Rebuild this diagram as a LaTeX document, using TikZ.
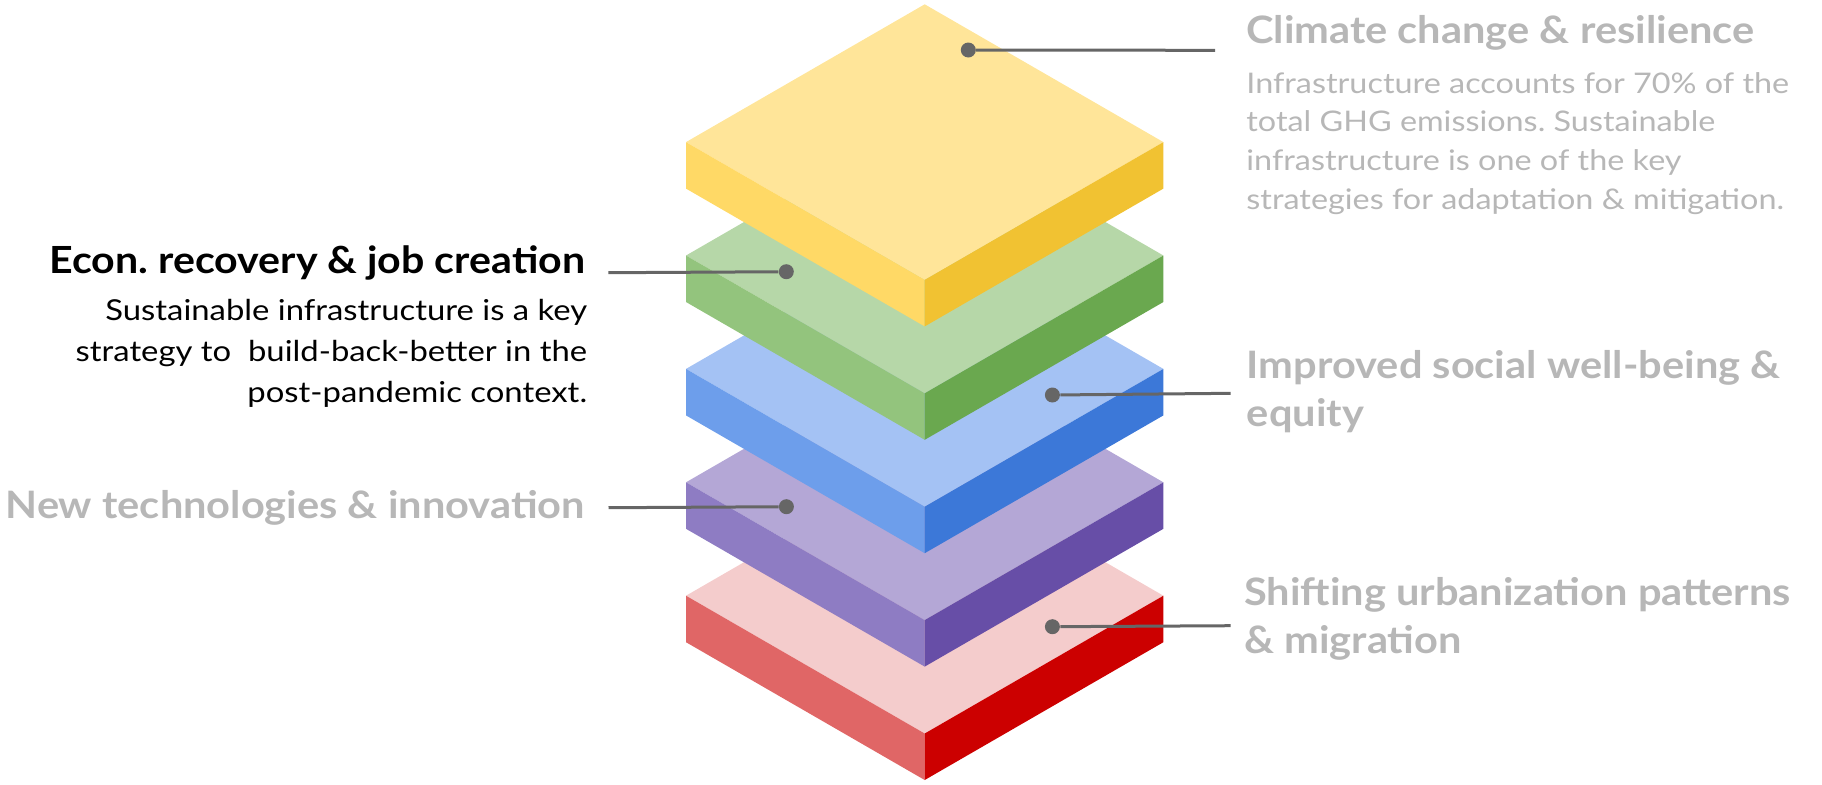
\documentclass[tikz,border=0pt]{standalone}
\usepackage{fontspec}
\setmainfont{Lato}[FakeStretch=1.14]
\newfontfamily\headfont{Lato}[FakeStretch=1.1]
\frenchspacing
\definecolor{ylwT}{HTML}{FFE599}
\definecolor{ylwL}{HTML}{FFD966}
\definecolor{ylwR}{HTML}{F1C232}
\definecolor{grnT}{HTML}{B6D7A8}
\definecolor{grnL}{HTML}{93C47D}
\definecolor{grnR}{HTML}{6AA84F}
\definecolor{bluT}{HTML}{A4C2F4}
\definecolor{bluL}{HTML}{6D9EEB}
\definecolor{bluR}{HTML}{3C78D8}
\definecolor{prpT}{HTML}{B4A7D6}
\definecolor{prpL}{HTML}{8E7CC3}
\definecolor{prpR}{HTML}{674EA7}
\definecolor{redT}{HTML}{F4CCCC}
\definecolor{redL}{HTML}{E06666}
\definecolor{redR}{HTML}{CC0000}
\definecolor{labelgray}{HTML}{B7B7B7}
\definecolor{pingray}{HTML}{666666}

\begin{document}
\begin{tikzpicture}[x=0.5pt,y=-0.5pt]
\tikzset{PinStyle/.style =
	{circle,
		fill=pingray,
		inner sep=0pt,
		minimum size=7.5pt},
	LeadStyle/.style = {draw=pingray, line width=1.5pt},
	HeadStyle/.style = {inner sep=0pt, font=\headfont\fontsize{18.9}{23.9}\selectfont\bfseries},
	TextStyle/.style = {inner sep=0pt, font=\fontsize{14.4}{20.5}\selectfont}}
\useasboundingbox (0,0) rectangle (1822,784);

% red layer
\begin{scope}[shift={(0,453.6)}]
\fill[redT] (924.7,4.3) -- ++(238.7,137.8) -- ++(-238.7,137.8) -- ++(-238.7,-137.8) -- cycle;
\fill[redL] (686,142.1) -- (924.7,279.9) -- ++(0,46.5) -- (686,188.6) -- cycle;
\fill[redR] (1163.4,142.1) -- (924.7,279.9) -- ++(0,46.5) -- (1163.4,188.6) -- cycle;
\end{scope}
% purple layer
\begin{scope}[shift={(0,340.2)}]
\fill[prpT] (924.7,4.3) -- ++(238.7,137.8) -- ++(-238.7,137.8) -- ++(-238.7,-137.8) -- cycle;
\fill[prpL] (686,142.1) -- (924.7,279.9) -- ++(0,46.5) -- (686,188.6) -- cycle;
\fill[prpR] (1163.4,142.1) -- (924.7,279.9) -- ++(0,46.5) -- (1163.4,188.6) -- cycle;
\end{scope}
% blue layer
\begin{scope}[shift={(0,226.8)}]
\fill[bluT] (924.7,4.3) -- ++(238.7,137.8) -- ++(-238.7,137.8) -- ++(-238.7,-137.8) -- cycle;
\fill[bluL] (686,142.1) -- (924.7,279.9) -- ++(0,46.5) -- (686,188.6) -- cycle;
\fill[bluR] (1163.4,142.1) -- (924.7,279.9) -- ++(0,46.5) -- (1163.4,188.6) -- cycle;
\end{scope}
% green layer
\begin{scope}[shift={(0,113.4)}]
\fill[grnT] (924.7,4.3) -- ++(238.7,137.8) -- ++(-238.7,137.8) -- ++(-238.7,-137.8) -- cycle;
\fill[grnL] (686,142.1) -- (924.7,279.9) -- ++(0,46.5) -- (686,188.6) -- cycle;
\fill[grnR] (1163.4,142.1) -- (924.7,279.9) -- ++(0,46.5) -- (1163.4,188.6) -- cycle;
\end{scope}
% yellow layer
\fill[ylwT] (924.7,4.3) -- ++(238.7,137.8) -- ++(-238.7,137.8) -- ++(-238.7,-137.8) -- cycle;
\fill[ylwL] (686,142.1) -- (924.7,279.9) -- ++(0,46.5) -- (686,188.6) -- cycle;
\fill[ylwR] (1163.4,142.1) -- (924.7,279.9) -- ++(0,46.5) -- (1163.4,188.6) -- cycle;

% pins
\node[PinStyle] (climPin) at (968.3,50) {};
\node[PinStyle] (econPin) at (786.3,271.7) {};
\node[PinStyle] (socPin) at (1052.4,395) {};
\node[PinStyle] (techPin) at (786.4,506.7) {};
\node[PinStyle] (urbPin) at (1052.4,626.7) {};
\coordinate (climEnd) at (1215,50.3);
\coordinate (econEnd) at (608.3,272.7);
\coordinate (socEnd) at (1230.7,393.3);
\coordinate (techEnd) at (608.5,507.7);
\coordinate (urbEnd) at (1230.7,625.7);
\draw[LeadStyle] (climPin) -- (climEnd);
\draw[LeadStyle] (econPin) -- (econEnd);
\draw[LeadStyle] (socPin) -- (socEnd);
\draw[LeadStyle] (techPin) -- (techEnd);
\draw[LeadStyle] (urbPin) -- (urbEnd);

% labels (multi-line nodes sit on their last baseline)
\node[HeadStyle, labelgray, anchor=base west] (climHead) at (1245.8,43.3) {Climate change \& resilience};
\node[TextStyle, labelgray, anchor=base west, align=left, font=\fontsize{14.2}{19.35}\selectfont] (climText) at (1246,209.3)
	{Infrastructure accounts for 70\% of the\\ total GHG emissions. Sustainable\\ infrastructure is one of the key\\ strategies for adaptation \& mitigation.};
\node[HeadStyle, black, anchor=base east, font=\headfont\fontsize{18.7}{23.9}\selectfont\bfseries] (econHead) at (585.7,273.3) {Econ. recovery \& job creation};
\node[TextStyle, black, anchor=base east, align=right] (econText) at (587.5,402.5)
	{Sustainable infrastructure is a key\\ strategy to\ \ build-back-better in the\\ post-pandemic context.};
\node[HeadStyle, labelgray, anchor=base west, align=left] (socHead) at (1246.5,426) {Improved social well-being \&\\ equity};
\node[HeadStyle, labelgray, anchor=base east] (techHead) at (585.5,518.3) {New technologies \& innovation};
\node[HeadStyle, labelgray, anchor=base west, align=left] (urbHead) at (1243.8,653.3) {Shifting urbanization patterns\\ \& migration};
\end{tikzpicture}
\end{document}
